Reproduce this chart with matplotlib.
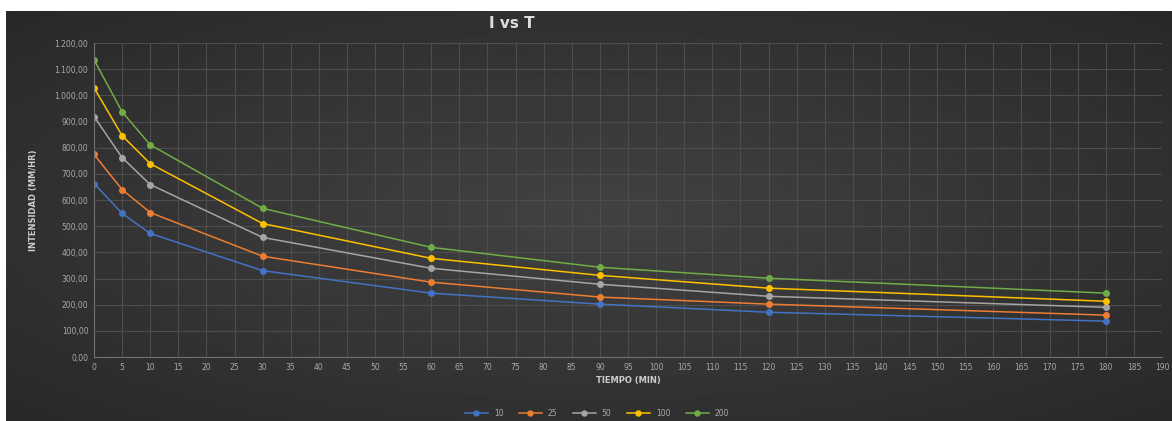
import matplotlib.pyplot as plt
import numpy as np

tiempo = [0, 5, 10, 30, 60, 90, 120, 180]
i_10 = [663, 549, 472, 330, 244, 202, 171, 137]
i_25 = [774, 640, 552, 385, 286, 229, 202, 160]
i_50 = [919, 762, 659, 457, 339, 278, 232, 190]
i_100 = [1029, 846, 739, 510, 377, 312, 263, 213]
i_200 = [1136, 937, 811, 568, 419, 343, 301, 244]
labels = ['10', '25', '50', '100', '200']
colors = ['#4472C4', '#ED7D31', '#A5A5A5', '#FFC000', '#70AD47']

fig = plt.figure(figsize=(11.72, 4.21), dpi=100)
fig.patch.set_facecolor('white')

# dark chart background with a soft lighter centre
bg = fig.add_axes([6 / 1172, 0, 1 - 6 / 1172, 1 - 11 / 421])
yy, xx = np.mgrid[-1:1:200j, -1:1:400j]
shade = np.clip(1 - np.sqrt(xx ** 2 + yy ** 2) / 1.4, 0, 1)
bg.imshow(0.16 + 0.10 * shade, cmap='gray', vmin=0, vmax=1, aspect='auto',
          extent=[0, 1, 0, 1])
bg.set_axis_off()

ax = fig.add_axes([94 / 1172, 1 - 357 / 421, (1162 - 94) / 1172, (357 - 43) / 421])
ax.patch.set_alpha(0)

series = [i_10, i_25, i_50, i_100, i_200]
for vals, lab, col in zip(series, labels, colors):
    ax.plot(tiempo, vals, color=col, lw=1.1, marker='o', ms=4, label=lab)

ax.set_xlim(0, 190)
ax.set_ylim(0, 1200)
ax.set_xticks(np.arange(0, 195, 5))
ax.set_yticks(np.arange(0, 1300, 100))
ax.set_yticklabels(['{:,.2f}'.format(v).replace(',', 'X').replace('.', ',').replace('X', '.')
                    for v in np.arange(0, 1300, 100)])
ax.tick_params(colors='#aaaaaa', labelsize=5.5, length=0, pad=4)
ax.grid(True, color='#4d4d4d', lw=0.8)
ax.set_axisbelow(True)
for side in ['top', 'right']:
    ax.spines[side].set_visible(False)
ax.spines['left'].set_color('#707070')
ax.spines['bottom'].set_color('#707070')

ax.set_xlabel('TIEMPO (MIN)', color='#cccccc', fontsize=6, fontweight='bold', labelpad=3)
ax.set_ylabel('INTENSIDAD (MM/HR)', color='#cccccc', fontsize=6, fontweight='bold', labelpad=12)
fig.text(512 / 1172, 1 - 23 / 421, 'I vs T', color='#dddddd', fontsize=11,
         fontweight='bold', ha='center', va='center')

ax.legend(loc='center', bbox_to_anchor=((597 - 94) / 1068, (357 - 413) / 314), ncol=5,
          frameon=False, fontsize=5.5, labelcolor='#aaaaaa', markerscale=0.9, handlelength=3)

plt.savefig('out.png', dpi=100)
